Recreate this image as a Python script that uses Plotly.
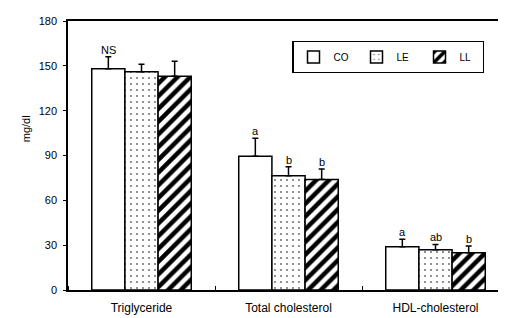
import plotly.graph_objects as go

categories = ["Triglyceride", "Total cholesterol", "HDL-cholesterol"]
groups = ["CO", "LE", "LL"]
values = {
    "CO": [148, 89.5, 29],
    "LE": [146, 76.5, 27],
    "LL": [143, 74, 25],
}
errors = {
    "CO": [8, 12, 5],
    "LE": [5, 6, 3.5],
    "LL": [10, 7, 4.5],
}
sig_labels = {
    "CO": ["NS", "a", "a"],
    "LE": ["", "b", "ab"],
    "LL": ["", "b", "b"],
}
y_ticks = [0, 30, 60, 90, 120, 150, 180]

patterns = {
    "CO": dict(shape="", fillmode="replace"),
    "LE": dict(shape=".", size=6, solidity=0.08, fgcolor="#666666", bgcolor="white", fillmode="replace"),
    "LL": dict(shape="/", size=9, solidity=0.5, fgcolor="black", bgcolor="white", fillmode="replace"),
}

FONT = "Liberation Sans, Arial"
bargap = 0.323
bw = (1 - bargap) / 3
xs = list(range(len(categories)))

fig = go.Figure()
for gi, g in enumerate(groups):
    fig.add_trace(go.Bar(
        name=g, x=xs, y=values[g],
        marker=dict(color="white", line=dict(color="black", width=1.5), pattern=patterns[g]),
        error_y=dict(type="data", symmetric=False, array=errors[g], arrayminus=[0] * len(xs),
                     color="black", thickness=1.5, width=3),
    ))
    for i, x in enumerate(xs):
        lab = sig_labels[g][i]
        if lab:
            fig.add_annotation(x=x + (gi - 1) * bw, y=values[g][i] + errors[g][i], text=lab,
                               showarrow=False, yanchor="bottom", yshift=-1,
                               font=dict(size=11, color="black", family=FONT))

fig.add_annotation(xref="paper", yref="paper", x=-0.096, xanchor="center", y=0.6, yanchor="middle",
                   text="mg/dl", textangle=-90,
                   showarrow=False, font=dict(size=11, color="black", family=FONT))

fig.update_layout(
    width=506, height=318,
    margin=dict(l=60, r=3, t=13, b=36),
    paper_bgcolor="white", plot_bgcolor="white",
    barmode="group", bargap=bargap, bargroupgap=0,
    font=dict(family=FONT, size=11, color="black"),
    showlegend=True,
    legend=dict(orientation="h", x=0.944, xanchor="right", y=0.925, yanchor="top",
                bordercolor="black", borderwidth=1.2, bgcolor="white",
                font=dict(size=10), itemwidth=30, tracegroupgap=0,
                entrywidth=18),
)
fig.update_xaxes(
    range=[-0.5, 2.5], tickvals=xs, ticktext=categories, ticks="",
    showline=True, linecolor="black", linewidth=1.5, mirror=True,
    tickfont=dict(size=12), ticklabelstandoff=6,
    minor=dict(tick0=0.5, dtick=1, ticks="inside", ticklen=4, tickcolor="black"),
    showgrid=False, zeroline=False,
)
fig.update_yaxes(
    range=[0, 180], tickvals=y_ticks, ticks="outside", ticklen=3, tickcolor="black",
    showline=True, linecolor="black", linewidth=1.5, mirror=True,
    tickfont=dict(size=11), ticklabelstandoff=4,
    showgrid=False, zeroline=False,
)
fig.write_html("out.html")
